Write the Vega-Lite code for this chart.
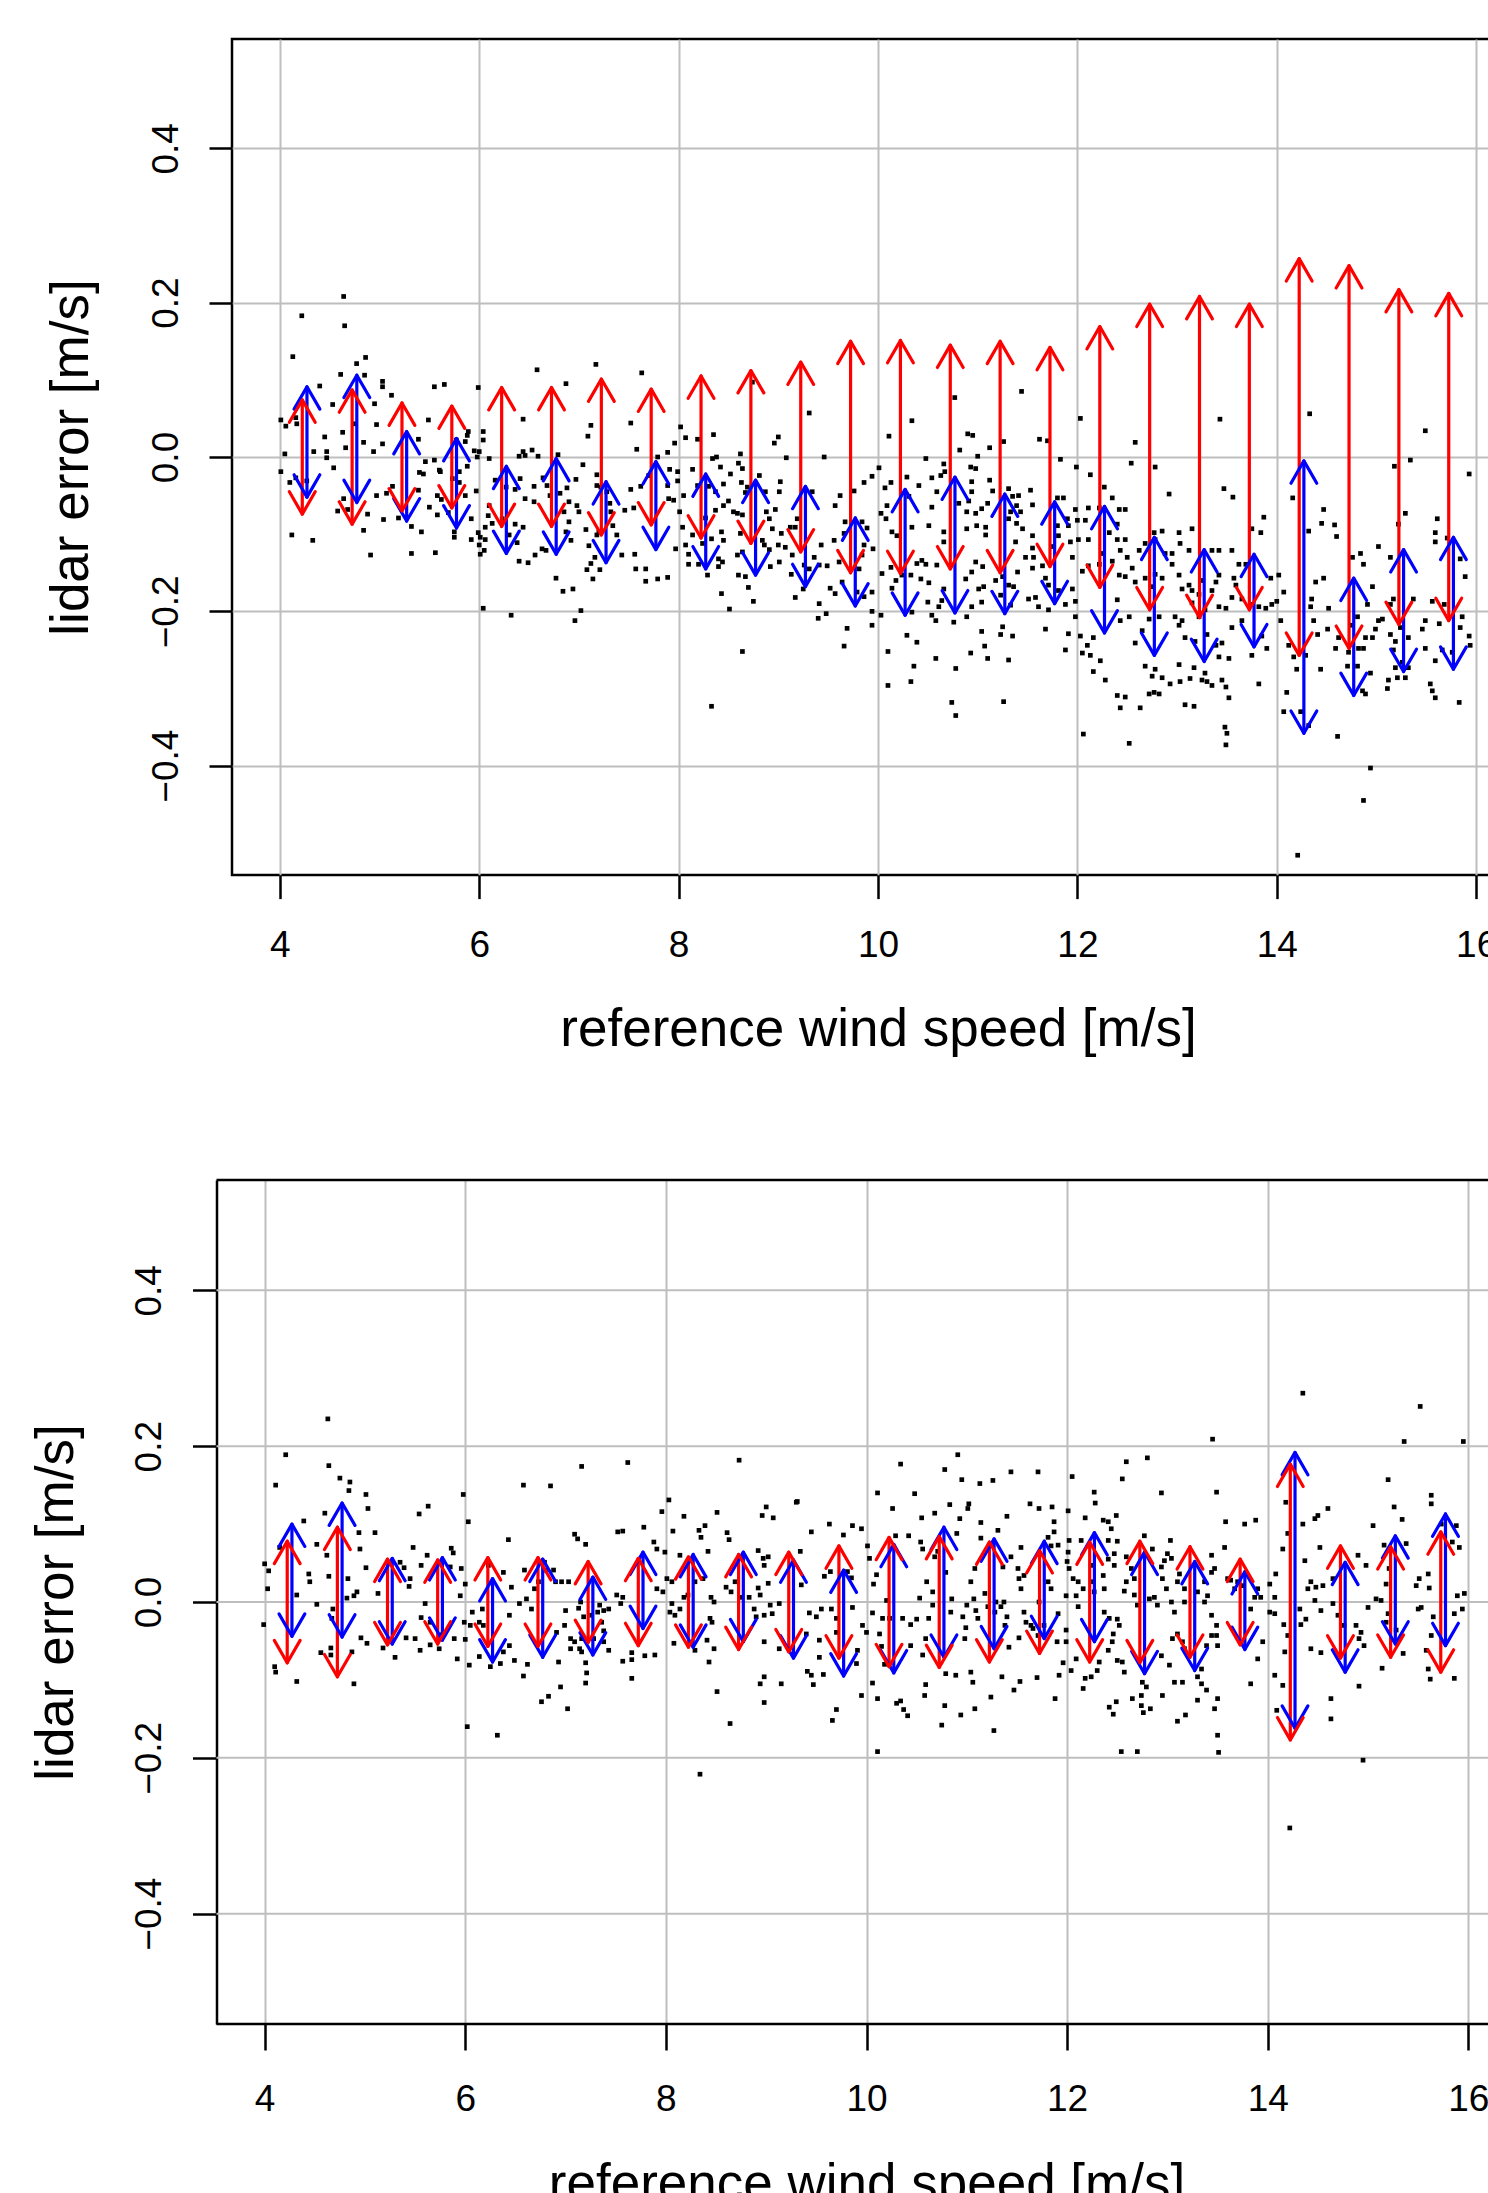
{
"$schema":"https://vega.github.io/schema/vega-lite/v6.json",
"padding":{"left":30,"top":37,"right":0,"bottom":0},
"background":"white",
"config":{"font":"Liberation Sans","axis":{"labelFont":"Liberation Sans","titleFont":"Liberation Sans","labelColor":"black","titleColor":"black","titleFontWeight":"normal","tickColor":"black","tickWidth":2.5,"domain":false,"grid":true,"gridColor":"#bebebe","gridWidth":2,"labelFontSize":37,"titleFontSize":53,"labelFlush":false,"labelOverlap":false}},
"datasets":{
"top":[{"x":4.64,"y":0.208},{"x":4.22,"y":0.183},{"x":4.65,"y":0.170},{"x":4.13,"y":0.130},{"x":4.77,"y":0.121},{"x":4.86,"y":0.129},{"x":4.61,"y":0.107},{"x":4.85,"y":0.106},{"x":4.40,"y":0.092},{"x":5.03,"y":0.091},{"x":5.03,"y":0.098},{"x":5.12,"y":0.080},{"x":5.55,"y":0.091},{"x":5.65,"y":0.094},{"x":5.99,"y":0.090},{"x":6.58,"y":0.113},{"x":7.17,"y":0.120},{"x":7.63,"y":0.109},{"x":6.87,"y":0.095},{"x":7.12,"y":0.041},{"x":7.09,"y":0.027},{"x":7.52,"y":0.044},{"x":7.58,"y":0.010},{"x":8.02,"y":0.039},{"x":8.07,"y":0.025},{"x":8.19,"y":0.023},{"x":7.96,"y":0.018},{"x":8.35,"y":0.029},
{"x":4.01,"y":0.048},{"x":4.06,"y":0.040},{"x":4.17,"y":0.043},{"x":4.16,"y":0.051},{"x":4.53,"y":0.068},{"x":4.95,"y":0.069},{"x":4.97,"y":0.042},{"x":4.63,"y":0.032},{"x":4.84,"y":0.019},{"x":5.03,"y":0.017},{"x":4.94,"y":0.007},{"x":4.45,"y":0.026},{"x":4.34,"y":0.007},{"x":4.47,"y":0.007},{"x":4.47,"y":-0.001},{"x":4.05,"y":0.004},{"x":4.01,"y":-0.019},{"x":4.54,"y":-0.014},{"x":4.66,"y":0.012},{"x":4.75,"y":0.043},{"x":5.49,"y":0.048},{"x":5.39,"y":0.023},{"x":5.89,"y":0.033},{"x":5.88,"y":0.028},{"x":6.04,"y":0.033},{"x":6.04,"y":0.022},{"x":5.86,"y":0.020},{"x":5.77,"y":0.022},{"x":5.95,"y":0.008},{"x":6.00,"y":0.007},{"x":5.98,"y":0.000},{"x":6.10,"y":-0.002},{"x":6.44,"y":0.049},{"x":6.53,"y":0.009},{"x":6.44,"y":0.007},{"x":6.46,"y":0.002},{"x":6.40,"y":0.001},{"x":6.59,"y":0.001},{"x":6.79,"y":0.003},{"x":7.04,"y":-0.010},
{"x":4.10,"y":-0.033},{"x":4.16,"y":-0.027},{"x":4.27,"y":-0.031},{"x":4.12,"y":-0.101},{"x":4.33,"y":-0.108},{"x":4.58,"y":-0.070},{"x":4.64,"y":-0.054},{"x":4.68,"y":-0.068},{"x":4.91,"y":-0.127},{"x":4.84,"y":-0.095},{"x":4.88,"y":-0.074},{"x":4.97,"y":-0.050},{"x":5.07,"y":-0.047},{"x":5.04,"y":-0.081},{"x":5.13,"y":-0.038},{"x":5.19,"y":-0.079},{"x":5.32,"y":-0.090},{"x":5.42,"y":-0.097},{"x":5.32,"y":-0.125},{"x":5.56,"y":-0.124},{"x":5.50,"y":-0.065},{"x":5.58,"y":-0.075},{"x":5.58,"y":-0.050},{"x":5.62,"y":-0.055},{"x":5.69,"y":-0.072},{"x":5.40,"y":-0.020},{"x":5.44,"y":-0.022},{"x":5.46,"y":-0.006},{"x":5.55,"y":-0.004},{"x":5.60,"y":-0.017},{"x":5.61,"y":-0.019},{"x":5.39,"y":-0.043},{"x":5.73,"y":-0.028},{"x":5.80,"y":-0.033},{"x":5.80,"y":-0.019},{"x":5.88,"y":-0.012},{"x":5.86,"y":-0.050},{"x":5.92,"y":-0.080},{"x":5.75,"y":-0.097},{"x":5.75,"y":-0.104},{"x":5.92,"y":-0.107},{"x":5.99,"y":-0.098},{"x":6.01,"y":-0.104},{"x":6.00,"y":-0.114},{"x":6.06,"y":-0.107},{"x":6.05,"y":-0.121},{"x":6.01,"y":-0.126},{"x":6.04,"y":-0.196},{"x":6.32,"y":-0.205},{"x":6.96,"y":-0.212},{"x":7.02,"y":-0.199},{"x":6.84,"y":-0.174},{"x":6.77,"y":-0.157},{"x":6.94,"y":-0.171},{"x":7.10,"y":-0.115},{"x":7.08,"y":-0.146},{"x":7.12,"y":-0.138},{"x":7.16,"y":-0.130},{"x":7.21,"y":-0.146},{"x":7.14,"y":-0.158},{"x":7.18,"y":-0.101},{"x":7.07,"y":-0.094},{"x":7.20,"y":-0.097},{"x":7.34,"y":-0.089},{"x":7.38,"y":-0.101},{"x":7.43,"y":-0.127},{"x":7.56,"y":-0.126},{"x":7.57,"y":-0.145},{"x":7.67,"y":-0.145},{"x":7.67,"y":-0.161},{"x":7.79,"y":-0.158},{"x":7.89,"y":-0.156},{"x":7.97,"y":-0.119},{"x":8.10,"y":-0.126},{"x":8.10,"y":-0.139},{"x":8.20,"y":-0.139},{"x":8.29,"y":-0.153},{"x":8.40,"y":-0.132},{"x":8.07,"y":-0.114},{"x":8.04,"y":-0.091},{"x":8.14,"y":-0.101},{"x":8.24,"y":-0.112},{"x":8.33,"y":-0.106},
{"x":6.16,"y":-0.030},{"x":6.27,"y":-0.039},{"x":6.41,"y":-0.028},{"x":6.36,"y":-0.042},{"x":6.46,"y":-0.054},{"x":6.55,"y":-0.038},{"x":6.55,"y":-0.058},{"x":6.64,"y":-0.027},{"x":6.68,"y":-0.037},{"x":6.71,"y":-0.050},{"x":6.81,"y":-0.047},{"x":6.88,"y":-0.040},{"x":6.90,"y":-0.058},{"x":6.97,"y":-0.029},{"x":6.98,"y":-0.063},{"x":7.00,"y":-0.071},{"x":6.85,"y":-0.071},{"x":6.90,"y":-0.084},{"x":6.92,"y":-0.108},{"x":6.87,"y":-0.097},{"x":6.40,"y":-0.135},{"x":6.49,"y":-0.137},{"x":6.56,"y":-0.127},{"x":6.63,"y":-0.119},{"x":6.67,"y":-0.121},{"x":6.38,"y":-0.111},{"x":6.44,"y":-0.091},{"x":6.36,"y":-0.087},{"x":6.13,"y":-0.086},{"x":6.23,"y":-0.080},{"x":6.30,"y":-0.101},{"x":6.09,"y":-0.076},{"x":6.06,"y":-0.091},{"x":5.97,"y":-0.044},{"x":6.10,"y":-0.063},
{"x":7.18,"y":-0.023},{"x":7.18,"y":-0.037},{"x":7.22,"y":-0.039},{"x":7.28,"y":-0.045},{"x":7.31,"y":-0.060},{"x":7.32,"y":-0.071},{"x":7.46,"y":-0.069},{"x":7.55,"y":-0.066},{"x":7.52,"y":-0.042},{"x":7.62,"y":-0.038},{"x":7.70,"y":-0.024},{"x":7.79,"y":0.000},{"x":7.89,"y":0.006},{"x":7.91,"y":-0.016},{"x":7.99,"y":-0.019},{"x":7.99,"y":-0.031},{"x":7.89,"y":-0.037},{"x":7.90,"y":-0.054},{"x":7.95,"y":-0.056},{"x":8.01,"y":-0.071},{"x":8.05,"y":-0.050},{"x":8.14,"y":-0.016},{"x":8.19,"y":-0.037},{"x":8.30,"y":-0.038},{"x":8.34,"y":-0.002},{"x":8.38,"y":0.000},{"x":8.37,"y":-0.045},{"x":8.37,"y":-0.069},{"x":8.27,"y":-0.079},{"x":8.33,"y":-0.323},
{"x":8.42,"y":-0.013},{"x":8.52,"y":-0.022},{"x":8.45,"y":-0.035},{"x":8.45,"y":-0.063},{"x":8.50,"y":-0.057},{"x":8.55,"y":-0.071},{"x":8.59,"y":-0.073},{"x":8.64,"y":-0.075},{"x":8.62,"y":-0.099},{"x":8.59,"y":-0.127},{"x":8.64,"y":-0.123},{"x":8.43,"y":-0.097},{"x":8.45,"y":-0.108},{"x":8.43,"y":-0.177},{"x":8.51,"y":-0.197},{"x":8.64,"y":-0.252},{"x":8.44,"y":-0.136},{"x":8.40,"y":-0.142},{"x":8.62,"y":0.004},{"x":8.60,"y":-0.008},{"x":8.64,"y":-0.015},{"x":8.63,"y":-0.033},{"x":8.69,"y":-0.039},{"x":8.67,"y":-0.046},{"x":8.74,"y":0.097},{"x":8.81,"y":-0.024},{"x":8.87,"y":-0.045},{"x":8.88,"y":-0.071},{"x":8.91,"y":-0.080},{"x":8.94,"y":-0.093},{"x":8.97,"y":-0.068},{"x":9.02,"y":-0.032},{"x":9.01,"y":-0.045},{"x":9.08,"y":-0.001},{"x":9.00,"y":0.026},{"x":8.96,"y":0.018},{"x":9.03,"y":-0.099},{"x":9.00,"y":-0.114},{"x":9.01,"y":-0.136},{"x":8.92,"y":-0.142},{"x":8.75,"y":-0.187},{"x":8.70,"y":-0.169},{"x":8.67,"y":-0.155},{"x":8.60,"y":-0.153},{"x":8.84,"y":-0.108},{"x":8.86,"y":-0.114},{"x":8.91,"y":-0.120},{"x":9.07,"y":-0.117},{"x":9.12,"y":-0.091},{"x":9.17,"y":-0.091},{"x":9.19,"y":-0.080},{"x":9.14,"y":-0.127},{"x":9.13,"y":-0.152},{"x":9.17,"y":-0.182},{"x":9.31,"y":0.057},{"x":9.34,"y":-0.045},{"x":9.26,"y":-0.140},{"x":9.31,"y":-0.145},{"x":9.36,"y":-0.130},{"x":9.41,"y":-0.140},{"x":9.43,"y":-0.114},{"x":9.49,"y":-0.141},{"x":9.25,"y":-0.171},{"x":9.46,"y":0.000},{"x":9.56,"y":-0.108},{"x":9.57,"y":-0.063},{"x":9.62,"y":-0.050},{"x":9.61,"y":-0.136},{"x":9.64,"y":-0.162},{"x":9.57,"y":-0.177},{"x":9.52,"y":-0.170},{"x":9.41,"y":-0.190},{"x":9.40,"y":-0.209},{"x":9.48,"y":-0.203},{"x":9.69,"y":-0.222},{"x":9.66,"y":-0.245},{"x":9.76,"y":-0.044},{"x":9.67,"y":-0.084},{"x":9.66,"y":-0.099},{"x":9.84,"y":-0.084},{"x":9.89,"y":-0.092},{"x":9.86,"y":-0.114},{"x":9.84,"y":-0.127},{"x":9.81,"y":-0.145},{"x":9.79,"y":-0.175},{"x":9.86,"y":-0.181},{"x":9.94,"y":-0.175},{"x":9.94,"y":-0.200},{"x":10.03,"y":-0.205},{"x":9.94,"y":-0.218},{"x":9.95,"y":-0.119},{"x":10.01,"y":-0.014},{"x":9.94,"y":-0.025},{"x":9.86,"y":-0.033},{"x":10.11,"y":0.027},{"x":10.13,"y":-0.033},{"x":10.07,"y":-0.040},{"x":10.09,"y":-0.063},{"x":10.03,"y":-0.073},{"x":10.08,"y":-0.080},{"x":10.14,"y":-0.097},{"x":10.19,"y":-0.102},{"x":10.29,"y":-0.026},{"x":10.31,"y":-0.051},{"x":10.34,"y":-0.091},{"x":10.13,"y":-0.143},{"x":10.18,"y":-0.160},{"x":10.14,"y":-0.170},{"x":10.04,"y":-0.151},{"x":10.24,"y":-0.153},{"x":10.33,"y":-0.153},{"x":10.39,"y":-0.138},{"x":10.44,"y":-0.134},{"x":10.48,"y":-0.139},{"x":10.43,"y":-0.158},{"x":10.51,"y":-0.163},{"x":10.34,"y":-0.201},{"x":10.29,"y":-0.231},{"x":10.39,"y":-0.240},{"x":10.36,"y":-0.271},{"x":10.33,"y":-0.291},{"x":10.10,"y":-0.252},{"x":10.10,"y":-0.296},{"x":10.34,"y":0.047},{"x":10.48,"y":-0.002},{"x":10.41,"y":-0.037},{"x":10.54,"y":-0.027},{"x":10.63,"y":-0.024},{"x":10.67,"y":-0.019},{"x":10.66,"y":-0.009},{"x":10.59,"y":-0.045},{"x":10.54,"y":-0.065},{"x":10.51,"y":-0.089},{"x":10.66,"y":-0.097},{"x":10.66,"y":-0.110},{"x":10.59,"y":-0.140},{"x":10.66,"y":-0.171},{"x":10.64,"y":-0.186},{"x":10.50,"y":-0.188},{"x":10.61,"y":-0.194},{"x":10.54,"y":-0.205},{"x":10.58,"y":-0.212},{"x":10.76,"y":-0.214},{"x":10.58,"y":-0.261},{"x":10.78,"y":-0.274},{"x":10.74,"y":-0.318},{"x":10.78,"y":-0.335},{"x":10.77,"y":0.077},{"x":10.82,"y":0.009},{"x":10.90,"y":0.030},{"x":10.95,"y":0.028},{"x":11.00,"y":0.001},{"x":10.93,"y":-0.013},{"x":10.98,"y":-0.015},{"x":10.94,"y":-0.032},{"x":10.94,"y":-0.045},{"x":10.91,"y":-0.057},{"x":10.81,"y":-0.060},{"x":10.89,"y":-0.071},{"x":10.98,"y":-0.073},{"x":11.04,"y":-0.067},{"x":11.10,"y":-0.060},{"x":11.15,"y":-0.044},{"x":11.12,"y":-0.030},{"x":11.26,"y":0.020},{"x":11.12,"y":0.012},{"x":11.31,"y":-0.041},{"x":11.35,"y":-0.051},{"x":11.39,"y":-0.063},{"x":11.33,"y":-0.071},{"x":11.31,"y":-0.080},{"x":11.08,"y":-0.091},{"x":10.99,"y":-0.089},{"x":10.89,"y":-0.093},{"x":11.08,"y":-0.101},{"x":10.98,"y":-0.136},{"x":11.05,"y":-0.142},{"x":10.94,"y":-0.149},{"x":10.88,"y":-0.158},{"x":11.01,"y":-0.171},{"x":11.06,"y":-0.168},{"x":11.18,"y":-0.160},{"x":11.25,"y":-0.155},{"x":11.31,"y":-0.166},{"x":11.36,"y":-0.168},{"x":11.23,"y":-0.179},{"x":11.33,"y":-0.192},{"x":11.04,"y":-0.188},{"x":10.94,"y":-0.194},{"x":10.89,"y":-0.207},{"x":11.04,"y":-0.226},{"x":11.07,"y":-0.245},{"x":11.10,"y":-0.261},{"x":10.93,"y":-0.254},{"x":11.25,"y":-0.220},{"x":11.23,"y":-0.230},{"x":11.35,"y":-0.232},{"x":11.31,"y":-0.263},{"x":11.26,"y":-0.317},{"x":11.40,"y":-0.149},{"x":11.38,"y":-0.110},{"x":11.39,"y":-0.086},
{"x":11.44,"y":0.085},{"x":11.62,"y":0.023},{"x":11.70,"y":0.021},{"x":11.83,"y":-0.003},{"x":12.03,"y":0.050},{"x":11.99,"y":-0.013},{"x":12.13,"y":-0.023},{"x":12.58,"y":0.019},{"x":12.54,"y":-0.008},{"x":12.78,"y":-0.013},{"x":12.92,"y":-0.048},{"x":13.43,"y":0.049},{"x":13.47,"y":-0.041},{"x":13.56,"y":-0.052},{"x":14.33,"y":0.056},{"x":15.49,"y":0.034},{"x":15.34,"y":-0.004},{"x":15.18,"y":-0.012},{"x":15.93,"y":-0.022},{"x":14.16,"y":-0.053},{"x":14.47,"y":-0.068},{"x":14.45,"y":-0.086},{"x":14.58,"y":-0.088},{"x":14.60,"y":-0.103},{"x":14.32,"y":-0.096},
{"x":11.41,"y":-0.050},{"x":11.53,"y":-0.043},{"x":11.55,"y":-0.062},{"x":11.43,"y":-0.071},{"x":11.45,"y":-0.093},{"x":11.55,"y":-0.102},{"x":11.55,"y":-0.118},{"x":11.48,"y":-0.130},{"x":11.56,"y":-0.130},{"x":11.55,"y":-0.144},{"x":11.65,"y":-0.141},{"x":11.75,"y":-0.116},{"x":11.81,"y":-0.102},{"x":11.80,"y":-0.089},{"x":11.86,"y":-0.053},{"x":11.80,"y":-0.053},{"x":11.90,"y":-0.080},{"x":11.91,"y":-0.089},{"x":11.98,"y":-0.068},{"x":12.00,"y":-0.082},{"x":12.08,"y":-0.082},{"x":12.11,"y":-0.066},{"x":12.22,"y":-0.066},{"x":12.27,"y":-0.039},{"x":12.35,"y":-0.053},{"x":12.42,"y":-0.068},{"x":12.48,"y":-0.068},{"x":12.40,"y":-0.087},{"x":12.32,"y":-0.098},{"x":12.40,"y":-0.107},{"x":12.48,"y":-0.107},{"x":12.43,"y":-0.121},{"x":12.50,"y":-0.130},{"x":12.55,"y":-0.144},{"x":12.48,"y":-0.155},{"x":12.58,"y":-0.162},{"x":12.42,"y":-0.153},{"x":12.11,"y":-0.107},{"x":12.01,"y":-0.107},{"x":11.93,"y":-0.110},{"x":11.95,"y":-0.130},{"x":12.05,"y":-0.148},{"x":12.11,"y":-0.141},{"x":12.25,"y":-0.125},{"x":12.22,"y":-0.139},{"x":12.35,"y":-0.135},{"x":11.95,"y":-0.171},{"x":11.81,"y":-0.173},{"x":11.71,"y":-0.166},{"x":11.68,"y":-0.157},{"x":11.58,"y":-0.182},{"x":11.51,"y":-0.184},{"x":11.61,"y":-0.194},{"x":11.71,"y":-0.198},{"x":11.88,"y":-0.191},{"x":11.98,"y":-0.187},
{"x":11.68,"y":-0.223},{"x":11.91,"y":-0.229},{"x":11.88,"y":-0.250},{"x":11.98,"y":-0.207},{"x":12.03,"y":-0.232},{"x":12.10,"y":-0.244},{"x":12.16,"y":-0.234},{"x":12.13,"y":-0.257},{"x":12.05,"y":-0.254},{"x":12.16,"y":-0.278},{"x":12.23,"y":-0.264},{"x":12.28,"y":-0.289},{"x":12.40,"y":-0.185},{"x":12.43,"y":-0.212},{"x":12.52,"y":-0.207},{"x":12.40,"y":-0.309},{"x":12.48,"y":-0.311},{"x":12.43,"y":-0.325},{"x":12.63,"y":-0.325},{"x":12.52,"y":-0.371},{"x":12.06,"y":-0.359},
{"x":12.62,"y":-0.121},{"x":12.68,"y":-0.112},{"x":12.77,"y":-0.098},{"x":12.78,"y":-0.107},{"x":12.85,"y":-0.096},{"x":12.88,"y":-0.125},{"x":12.78,"y":-0.152},{"x":12.68,"y":-0.157},{"x":12.75,"y":-0.168},{"x":12.85,"y":-0.157},{"x":12.95,"y":-0.139},{"x":13.02,"y":-0.098},{"x":13.03,"y":-0.112},{"x":13.12,"y":-0.121},{"x":13.15,"y":-0.093},{"x":12.95,"y":-0.125},{"x":13.02,"y":-0.153},{"x":13.12,"y":-0.166},{"x":13.05,"y":-0.171},{"x":13.15,"y":-0.173},{"x":13.22,"y":-0.178},{"x":13.25,"y":-0.160},{"x":13.35,"y":-0.173},{"x":13.39,"y":-0.162},{"x":13.42,"y":-0.153},{"x":13.35,"y":-0.121},{"x":13.42,"y":-0.121},{"x":13.55,"y":-0.121},{"x":13.62,"y":-0.139},{"x":13.69,"y":-0.139},{"x":13.75,"y":-0.093},{"x":13.84,"y":-0.098},{"x":13.87,"y":-0.078},{"x":13.57,"y":-0.157},{"x":13.59,"y":-0.166},{"x":13.65,"y":-0.184},{"x":13.75,"y":-0.191},{"x":13.82,"y":-0.194},{"x":13.89,"y":-0.196},{"x":13.95,"y":-0.191},{"x":14.00,"y":-0.187},{"x":14.02,"y":-0.153},{"x":14.07,"y":-0.175},{"x":13.94,"y":-0.157},{"x":13.55,"y":-0.182},{"x":13.49,"y":-0.196},{"x":13.42,"y":-0.194},{"x":13.28,"y":-0.198},{"x":13.22,"y":-0.207},{"x":13.15,"y":-0.189},{"x":13.05,"y":-0.212},{"x":12.98,"y":-0.207},{"x":12.82,"y":-0.207},{"x":12.72,"y":-0.210},{"x":12.65,"y":-0.225},{"x":12.58,"y":-0.241},{"x":12.68,"y":-0.271},{"x":12.75,"y":-0.284},{"x":12.78,"y":-0.275},{"x":12.85,"y":-0.286},{"x":12.93,"y":-0.294},{"x":13.02,"y":-0.269},{"x":13.03,"y":-0.291},{"x":13.13,"y":-0.287},{"x":13.17,"y":-0.273},{"x":13.25,"y":-0.289},{"x":13.30,"y":-0.291},{"x":13.35,"y":-0.296},{"x":13.28,"y":-0.280},{"x":13.42,"y":-0.259},{"x":13.52,"y":-0.261},{"x":13.45,"y":-0.289},{"x":13.49,"y":-0.298},{"x":13.52,"y":-0.312},{"x":13.08,"y":-0.321},{"x":13.17,"y":-0.323},{"x":12.72,"y":-0.307},{"x":12.77,"y":-0.305},{"x":12.82,"y":-0.307},{"x":13.48,"y":-0.350},{"x":13.50,"y":-0.358},{"x":13.49,"y":-0.373},{"x":13.02,"y":-0.218},{"x":13.08,"y":-0.234},{"x":13.18,"y":-0.239},{"x":13.30,"y":-0.230},{"x":13.39,"y":-0.244},{"x":13.45,"y":-0.241},{"x":13.55,"y":-0.221},{"x":13.65,"y":-0.212},{"x":13.75,"y":-0.257},{"x":13.82,"y":-0.294},{"x":13.85,"y":-0.232},{"x":13.90,"y":-0.248},
{"x":14.04,"y":-0.212},{"x":14.12,"y":-0.244},{"x":14.17,"y":-0.259},{"x":14.20,"y":-0.275},{"x":14.10,"y":-0.305},{"x":14.07,"y":-0.330},{"x":14.24,"y":-0.330},{"x":14.32,"y":-0.348},{"x":14.29,"y":-0.257},{"x":14.37,"y":-0.212},{"x":14.41,"y":-0.230},{"x":14.34,"y":-0.194},{"x":14.35,"y":-0.184},{"x":14.39,"y":-0.162},{"x":14.47,"y":-0.157},{"x":14.51,"y":-0.223},{"x":14.44,"y":-0.275},{"x":14.52,"y":-0.196},{"x":14.59,"y":-0.248},{"x":14.62,"y":-0.234},{"x":14.74,"y":-0.218},{"x":14.81,"y":-0.207},{"x":14.82,"y":-0.248},{"x":14.87,"y":-0.248},{"x":14.89,"y":-0.234},{"x":14.96,"y":-0.234},{"x":14.99,"y":-0.223},{"x":15.02,"y":-0.212},{"x":15.06,"y":-0.210},{"x":14.96,"y":-0.168},{"x":14.91,"y":-0.191},{"x":14.72,"y":-0.253},{"x":14.71,"y":-0.271},{"x":14.81,"y":-0.271},{"x":14.89,"y":-0.307},{"x":14.94,"y":-0.280},{"x":14.86,"y":-0.303},{"x":14.61,"y":-0.362},{"x":14.94,"y":-0.403},{"x":14.76,"y":-0.130},{"x":14.84,"y":-0.125},{"x":14.87,"y":-0.139},{"x":15.02,"y":-0.116},
{"x":15.14,"y":-0.130},{"x":15.22,"y":-0.087},{"x":15.29,"y":-0.073},{"x":15.17,"y":-0.184},{"x":15.14,"y":-0.230},{"x":15.24,"y":-0.221},{"x":15.19,"y":-0.239},{"x":15.32,"y":-0.234},{"x":15.17,"y":-0.250},{"x":15.26,"y":-0.266},{"x":15.19,"y":-0.273},{"x":15.32,"y":-0.273},{"x":15.12,"y":-0.289},{"x":15.11,"y":-0.300},{"x":15.21,"y":-0.286},{"x":15.29,"y":-0.286},{"x":15.14,"y":-0.191},{"x":15.37,"y":-0.184},{"x":15.49,"y":-0.212},{"x":15.46,"y":-0.223},{"x":15.49,"y":-0.248},{"x":15.56,"y":-0.187},{"x":15.61,"y":-0.080},{"x":15.59,"y":-0.098},{"x":15.59,"y":-0.110},{"x":15.71,"y":-0.105},{"x":15.84,"y":-0.132},{"x":15.89,"y":-0.155},{"x":15.86,"y":-0.207},{"x":15.84,"y":-0.221},{"x":15.93,"y":-0.232},{"x":15.94,"y":-0.244},{"x":15.76,"y":-0.253},{"x":15.66,"y":-0.250},{"x":15.59,"y":-0.264},{"x":15.54,"y":-0.294},{"x":15.56,"y":-0.303},{"x":15.59,"y":-0.312},{"x":15.83,"y":-0.318},{"x":15.63,"y":-0.216},{"x":15.68,"y":-0.191},{"x":14.21,"y":-0.516},{"x":14.87,"y":-0.445}],
"bot":[{"x":4.63,"y":0.235},{"x":4.21,"y":0.189},{"x":4.11,"y":0.150},{"x":4.64,"y":0.175},{"x":4.75,"y":0.159},{"x":4.85,"y":0.154},{"x":4.84,"y":0.143},{"x":5.01,"y":0.138},{"x":5.03,"y":0.120},{"x":4.60,"y":0.114},{"x":4.39,"y":0.104},{"x":4.94,"y":0.089},{"x":5.10,"y":0.089},{"x":4.95,"y":0.068},{"x":4.52,"y":0.074},{"x":4.15,"y":0.070},{"x":4.00,"y":0.049},{"x":4.04,"y":0.040},{"x":4.03,"y":0.017},{"x":3.99,"y":-0.029},{"x":4.44,"y":0.036},{"x":4.45,"y":0.026},{"x":4.32,"y":0.009},{"x":4.52,"y":-0.003},{"x":4.62,"y":0.060},{"x":4.64,"y":0.033},{"x":4.83,"y":0.030},{"x":4.92,"y":0.013},{"x":4.89,"y":0.008},{"x":4.82,"y":0.005},{"x":4.68,"y":-0.009},{"x":4.67,"y":-0.021},{"x":4.10,"y":-0.083},{"x":4.11,"y":-0.090},{"x":4.32,"y":-0.102},{"x":4.56,"y":-0.065},{"x":4.66,"y":-0.059},{"x":4.66,"y":-0.068},{"x":4.87,"y":-0.064},{"x":4.89,"y":-0.105},{"x":4.96,"y":-0.046},{"x":5.02,"y":-0.053},{"x":5.18,"y":-0.059},{"x":5.30,"y":-0.071},{"x":5.13,"y":0.011},{"x":5.01,"y":0.044},{"x":5.35,"y":0.051},{"x":5.39,"y":0.044},{"x":5.45,"y":0.030},{"x":5.44,"y":0.020},{"x":5.48,"y":0.070},{"x":5.54,"y":0.113},{"x":5.63,"y":0.123},{"x":5.62,"y":0.060},{"x":5.56,"y":0.047},{"x":5.60,"y":-0.002},{"x":5.56,"y":-0.020},{"x":5.65,"y":-0.026},{"x":5.41,"y":-0.046},{"x":5.50,"y":-0.047},{"x":5.55,"y":-0.062},{"x":5.65,"y":-0.055},{"x":5.74,"y":-0.060},{"x":5.77,"y":-0.042},{"x":5.89,"y":-0.047},{"x":5.92,"y":-0.073},{"x":6.00,"y":-0.048},{"x":6.04,"y":-0.081},{"x":6.14,"y":-0.070},{"x":6.25,"y":-0.083},{"x":6.35,"y":-0.079},{"x":6.38,"y":-0.064},{"x":6.44,"y":-0.056},{"x":6.49,"y":-0.075},{"x":6.58,"y":-0.095},{"x":6.62,"y":-0.080},{"x":5.98,"y":0.138},{"x":6.03,"y":0.103},{"x":5.86,"y":0.069},{"x":5.88,"y":0.063},{"x":5.85,"y":0.045},{"x":5.96,"y":0.043},{"x":5.95,"y":0.008},{"x":6.00,"y":0.023},{"x":5.99,"y":-0.026},{"x":6.05,"y":-0.030},{"x":6.14,"y":-0.026},{"x":6.18,"y":-0.030},{"x":6.17,"y":-0.009},{"x":6.07,"y":-0.013},{"x":6.23,"y":0.047},{"x":6.38,"y":0.038},{"x":6.43,"y":0.080},{"x":6.46,"y":0.019},{"x":6.44,"y":-0.017},{"x":6.54,"y":-0.002},{"x":6.59,"y":0.041},{"x":6.58,"y":0.150},{"x":6.61,"y":0.004},{"x":6.66,"y":-0.009},{"x":6.69,"y":0.017},{"x":6.73,"y":0.026},{"x":6.79,"y":0.051},{"x":6.80,"y":0.041},{"x":6.88,"y":0.041},{"x":6.90,"y":0.026},{"x":6.96,"y":0.026},{"x":7.03,"y":0.026},{"x":7.00,"y":-0.011},{"x":6.99,"y":-0.030},{"x":6.93,"y":-0.077},{"x":6.76,"y":-0.128},{"x":6.83,"y":-0.121},{"x":6.95,"y":-0.109},{"x":7.02,"y":-0.137},{"x":6.91,"y":-0.039},{"x":7.05,"y":-0.047},{"x":7.09,"y":-0.051},{"x":7.05,"y":-0.060},{"x":7.14,"y":-0.060},{"x":7.16,"y":-0.047},{"x":7.16,"y":-0.064},{"x":7.20,"y":-0.078},{"x":7.21,"y":-0.091},{"x":7.20,"y":-0.104},{"x":7.09,"y":0.087},{"x":7.12,"y":0.081},{"x":7.20,"y":0.074},{"x":7.16,"y":0.174},{"x":6.85,"y":0.149},{"x":7.15,"y":0.000},{"x":7.13,"y":-0.008},{"x":7.18,"y":-0.019},{"x":7.26,"y":-0.017},{"x":7.34,"y":-0.004},{"x":7.32,"y":-0.013},{"x":7.38,"y":-0.011},{"x":7.43,"y":-0.009},{"x":7.36,"y":-0.026},{"x":7.38,"y":-0.037},{"x":7.28,"y":-0.047},{"x":7.38,"y":-0.051},{"x":7.43,"y":-0.062},{"x":7.51,"y":0.009},{"x":7.57,"y":0.006},{"x":7.55,"y":-0.002},{"x":7.52,"y":0.090},{"x":7.57,"y":0.091},{"x":7.62,"y":0.179},{"x":7.66,"y":-0.065},{"x":7.66,"y":-0.074},{"x":7.57,"y":-0.076},{"x":7.66,"y":-0.098},{"x":7.79,"y":-0.069},{"x":7.89,"y":-0.068},{"x":7.78,"y":0.096},{"x":7.88,"y":0.077},{"x":7.91,"y":0.068},{"x":8.03,"y":0.131},{"x":7.96,"y":0.116},{"x":7.99,"y":0.064},{"x":8.07,"y":0.091},{"x":8.18,"y":0.110},{"x":8.14,"y":0.060},{"x":8.01,"y":0.030},{"x":8.06,"y":0.026},{"x":7.97,"y":0.013},{"x":7.91,"y":0.017},{"x":8.06,"y":-0.002},{"x":8.04,"y":-0.013},{"x":8.09,"y":-0.017},{"x":8.14,"y":-0.009},{"x":8.18,"y":0.006},{"x":8.22,"y":0.009},{"x":8.29,"y":0.026},{"x":8.37,"y":0.030},{"x":8.42,"y":0.065},{"x":8.33,"y":0.092},{"x":8.39,"y":0.098},{"x":8.35,"y":0.083},{"x":8.51,"y":0.115},{"x":8.63,"y":0.080},{"x":8.61,"y":0.089},{"x":8.73,"y":0.182},{"x":8.45,"y":0.006},{"x":8.48,"y":0.000},{"x":8.44,"y":-0.021},{"x":8.46,"y":-0.026},{"x":8.41,"y":-0.049},{"x":8.48,"y":-0.060},{"x":8.43,"y":-0.077},{"x":8.29,"y":-0.062},{"x":8.08,"y":-0.053},{"x":8.51,"y":-0.115},{"x":8.64,"y":-0.156},{"x":8.60,"y":0.019},{"x":8.65,"y":0.013},{"x":8.69,"y":0.026},{"x":8.75,"y":0.006},{"x":8.83,"y":0.006},{"x":8.94,"y":0.009},{"x":8.92,"y":0.018},{"x":9.02,"y":0.024},{"x":8.88,"y":-0.009},{"x":8.90,"y":-0.019},{"x":8.98,"y":-0.017},{"x":9.06,"y":-0.015},{"x":9.04,"y":-0.004},{"x":9.13,"y":-0.002},{"x":8.98,"y":0.047},{"x":8.97,"y":0.056},{"x":8.92,"y":0.066},{"x":9.02,"y":0.058},{"x":9.00,"y":0.122},{"x":9.07,"y":0.108},{"x":8.96,"y":0.111},{"x":9.30,"y":0.128},{"x":8.98,"y":-0.051},{"x":8.98,"y":-0.096},{"x":8.94,"y":-0.105},{"x":8.98,"y":-0.129},{"x":9.15,"y":-0.105},{"x":9.13,"y":-0.060},{"x":8.34,"y":-0.221},{"x":6.02,"y":-0.160},{"x":6.32,"y":-0.171},
{"x":9.31,"y":0.129},{"x":9.35,"y":0.022},{"x":9.34,"y":0.065},{"x":9.45,"y":0.090},{"x":9.43,"y":-0.014},{"x":9.40,"y":-0.041},{"x":9.41,"y":-0.089},{"x":9.45,"y":-0.094},{"x":9.47,"y":-0.106},{"x":9.50,"y":-0.019},{"x":9.53,"y":-0.049},{"x":9.55,"y":-0.009},{"x":9.53,"y":-0.071},{"x":9.57,"y":-0.093},{"x":9.58,"y":0.033},{"x":9.63,"y":0.100},{"x":9.64,"y":0.039},{"x":9.65,"y":-0.009},{"x":9.70,"y":-0.021},{"x":9.70,"y":-0.039},{"x":9.70,"y":-0.138},{"x":9.66,"y":-0.152},{"x":9.77,"y":0.086},{"x":9.81,"y":0.039},{"x":9.85,"y":0.031},{"x":9.86,"y":-0.007},{"x":9.86,"y":0.098},{"x":9.95,"y":0.094},{"x":9.91,"y":-0.062},{"x":9.90,"y":-0.079},{"x":9.96,"y":-0.030},{"x":9.95,"y":-0.120},{"x":10.00,"y":-0.039},{"x":10.01,"y":0.072},{"x":10.03,"y":0.056},{"x":10.06,"y":-0.104},{"x":10.07,"y":0.023},{"x":10.10,"y":0.035},{"x":10.06,"y":-0.014},{"x":10.11,"y":-0.124},{"x":10.11,"y":-0.192},{"x":10.11,"y":0.140},{"x":10.13,"y":-0.041},{"x":10.16,"y":-0.021},{"x":10.20,"y":0.002},{"x":10.18,"y":-0.080},{"x":10.15,"y":-0.057},{"x":10.23,"y":-0.021},{"x":10.26,"y":0.120},{"x":10.29,"y":0.085},{"x":10.30,"y":-0.130},{"x":10.34,"y":-0.127},{"x":10.37,"y":-0.138},{"x":10.41,"y":-0.146},{"x":10.34,"y":0.177},{"x":10.36,"y":-0.021},{"x":10.42,"y":0.085},{"x":10.44,"y":-0.029},{"x":10.44,"y":-0.056},{"x":10.48,"y":0.139},{"x":10.50,"y":-0.022},{"x":10.53,"y":0.005},{"x":10.54,"y":0.077},{"x":10.55,"y":0.108},{"x":10.56,"y":0.068},{"x":10.59,"y":-0.047},{"x":10.56,"y":-0.068},{"x":10.59,"y":-0.106},{"x":10.58,"y":-0.120},{"x":10.60,"y":0.026},{"x":10.62,"y":-0.021},{"x":10.66,"y":-0.004},{"x":10.66,"y":0.013},{"x":10.68,"y":0.114},{"x":10.68,"y":0.058},{"x":10.71,"y":0.065},{"x":10.75,"y":-0.158},{"x":10.78,"y":-0.133},{"x":10.79,"y":0.038},{"x":10.78,"y":0.170},{"x":10.83,"y":0.125},{"x":10.84,"y":-0.013},{"x":10.85,"y":0.004},{"x":10.89,"y":-0.094},{"x":10.91,"y":0.189},{"x":10.90,"y":0.088},{"x":10.93,"y":0.107},{"x":10.95,"y":0.157},{"x":10.96,"y":-0.019},{"x":10.99,"y":-0.033},{"x":10.98,"y":-0.047},{"x":11.00,"y":-0.004},{"x":11.01,"y":0.120},{"x":11.02,"y":0.126},{"x":11.04,"y":0.026},{"x":11.07,"y":0.004},{"x":11.09,"y":-0.011},{"x":11.04,"y":-0.090},{"x":11.06,"y":-0.103},{"x":11.08,"y":0.043},{"x":11.11,"y":-0.021},{"x":11.13,"y":0.152},{"x":11.14,"y":0.102},{"x":11.14,"y":0.082},{"x":11.18,"y":0.011},{"x":11.21,"y":-0.006},{"x":11.24,"y":-0.122},{"x":11.26,"y":0.156},{"x":11.27,"y":-0.165},{"x":11.28,"y":-0.013},{"x":11.29,"y":0.000},{"x":11.31,"y":0.092},{"x":11.08,"y":-0.137},{"x":10.94,"y":-0.145},{"x":10.79,"y":-0.092},
{"x":11.44,"y":0.167},{"x":11.71,"y":0.167},{"x":11.40,"y":0.110},{"x":11.63,"y":0.126},{"x":11.72,"y":0.120},{"x":11.85,"y":0.122},{"x":11.87,"y":0.103},{"x":11.87,"y":0.090},{"x":12.01,"y":0.117},{"x":12.05,"y":0.161},{"x":11.84,"y":0.072},{"x":11.91,"y":0.073},{"x":11.81,"y":0.083},{"x":11.54,"y":0.070},{"x":11.44,"y":0.058},{"x":11.36,"y":0.045},{"x":11.51,"y":0.043},{"x":11.52,"y":0.030},{"x":11.57,"y":0.034},{"x":11.54,"y":0.017},{"x":11.37,"y":0.000},{"x":11.34,"y":-0.006},{"x":11.40,"y":-0.019},{"x":11.38,"y":-0.030},{"x":11.57,"y":-0.013},{"x":11.59,"y":-0.026},{"x":11.64,"y":-0.030},{"x":11.42,"y":-0.058},{"x":11.52,"y":-0.046},{"x":11.35,"y":-0.096},{"x":11.47,"y":-0.113},{"x":11.53,"y":-0.102},{"x":11.70,"y":-0.097},{"x":11.88,"y":-0.124},{"x":11.92,"y":-0.094},{"x":11.90,"y":-0.051},{"x":11.96,"y":-0.078},{"x":11.91,"y":-0.015},{"x":11.84,"y":0.017},{"x":11.81,"y":0.026},{"x":11.72,"y":0.000},{"x":11.77,"y":-0.030},{"x":11.66,"y":-0.034},{"x":11.71,"y":-0.043},{"x":11.99,"y":-0.036},{"x":11.99,"y":-0.051},{"x":12.02,"y":0.079},{"x":12.01,"y":0.064},{"x":12.00,"y":0.052},{"x":12.02,"y":0.043},{"x":12.06,"y":0.030},{"x":12.11,"y":0.026},{"x":12.09,"y":0.008},{"x":11.99,"y":0.008},{"x":12.11,"y":-0.006},{"x":12.16,"y":0.017},{"x":12.14,"y":0.079},{"x":12.18,"y":0.108},{"x":12.27,"y":0.141},{"x":12.28,"y":0.127},{"x":12.36,"y":0.105},{"x":12.41,"y":0.103},{"x":12.44,"y":0.094},{"x":12.41,"y":0.079},{"x":12.49,"y":0.111},{"x":12.50,"y":0.078},{"x":12.47,"y":0.062},{"x":12.47,"y":0.047},{"x":12.41,"y":0.055},{"x":12.36,"y":0.034},{"x":12.37,"y":0.017},{"x":12.24,"y":0.047},{"x":12.24,"y":0.026},{"x":12.27,"y":0.013},{"x":12.37,"y":-0.013},{"x":12.42,"y":-0.021},{"x":12.50,"y":-0.022},{"x":12.52,"y":-0.030},{"x":12.46,"y":-0.041},{"x":12.45,"y":-0.051},{"x":12.41,"y":-0.062},{"x":12.32,"y":-0.077},{"x":12.30,"y":-0.088},{"x":12.24,"y":-0.096},{"x":12.18,"y":-0.098},{"x":12.09,"y":-0.073},{"x":12.04,"y":-0.088},{"x":12.16,"y":-0.111},
{"x":12.59,"y":0.180},{"x":12.55,"y":0.158},{"x":12.80,"y":0.185},{"x":12.94,"y":0.140},{"x":12.77,"y":0.085},{"x":12.85,"y":0.068},{"x":12.59,"y":0.058},{"x":12.64,"y":0.043},{"x":12.67,"y":0.030},{"x":12.59,"y":0.026},{"x":12.57,"y":0.014},{"x":12.67,"y":0.009},{"x":12.70,"y":-0.004},{"x":12.82,"y":0.004},{"x":12.87,"y":0.006},{"x":12.90,"y":-0.004},{"x":12.94,"y":0.045},{"x":12.97,"y":0.053},{"x":13.04,"y":0.056},{"x":13.03,"y":0.079},{"x":13.00,"y":0.062},{"x":12.95,"y":0.030},{"x":12.99,"y":0.017},{"x":13.04,"y":0.000},{"x":13.07,"y":-0.013},{"x":13.10,"y":0.026},{"x":13.12,"y":0.036},{"x":13.17,"y":0.017},{"x":13.17,"y":0.000},{"x":13.10,"y":-0.041},{"x":13.05,"y":-0.047},{"x":13.15,"y":-0.051},{"x":13.17,"y":-0.060},{"x":12.55,"y":-0.077},{"x":12.57,"y":-0.090},{"x":12.50,"y":-0.075},{"x":12.65,"y":-0.124},{"x":12.75,"y":-0.103},{"x":12.79,"y":-0.109},{"x":12.74,"y":-0.120},{"x":12.74,"y":-0.133},{"x":12.83,"y":-0.137},{"x":12.76,"y":-0.142},{"x":12.49,"y":-0.128},{"x":12.42,"y":-0.135},{"x":12.46,"y":-0.144},{"x":12.54,"y":-0.192},{"x":12.70,"y":-0.192},{"x":12.95,"y":-0.120},{"x":13.02,"y":-0.081},{"x":12.94,"y":-0.069},{"x":13.10,"y":-0.153},{"x":13.18,"y":-0.145},{"x":13.15,"y":-0.103},{"x":13.07,"y":-0.103},{"x":13.30,"y":-0.096},{"x":13.34,"y":-0.105},{"x":13.39,"y":-0.113},{"x":13.30,"y":-0.126},{"x":13.34,"y":-0.086},{"x":13.39,"y":-0.056},{"x":13.44,"y":-0.043},{"x":13.49,"y":-0.043},{"x":13.50,"y":-0.056},{"x":13.49,"y":-0.030},{"x":13.44,"y":-0.017},{"x":13.37,"y":0.000},{"x":13.40,"y":0.008},{"x":13.30,"y":0.013},{"x":13.37,"y":0.026},{"x":13.44,"y":0.038},{"x":13.47,"y":0.043},{"x":13.44,"y":0.060},{"x":13.57,"y":0.070},{"x":13.58,"y":0.103},{"x":13.77,"y":0.100},{"x":13.88,"y":0.105},{"x":13.49,"y":0.141},{"x":13.45,"y":0.209},{"x":13.60,"y":0.030},{"x":13.63,"y":0.028},{"x":13.67,"y":0.017},{"x":13.70,"y":0.026},{"x":13.75,"y":0.021},{"x":13.83,"y":-0.009},{"x":13.87,"y":0.006},{"x":13.90,"y":0.017},{"x":13.93,"y":0.006},{"x":13.95,"y":-0.051},{"x":13.90,"y":-0.073},{"x":13.83,"y":-0.105},{"x":13.50,"y":-0.124},{"x":13.47,"y":-0.137},{"x":13.50,"y":-0.171},{"x":13.51,"y":-0.193},
{"x":14.02,"y":0.023},{"x":14.07,"y":0.006},{"x":14.07,"y":-0.015},{"x":14.02,"y":-0.013},{"x":14.08,"y":0.036},{"x":14.15,"y":0.068},{"x":14.18,"y":0.128},{"x":14.20,"y":0.088},{"x":14.16,"y":-0.029},{"x":14.20,"y":-0.043},{"x":14.17,"y":-0.064},{"x":14.15,"y":-0.107},{"x":14.07,"y":-0.094},{"x":14.09,"y":-0.139},{"x":14.22,"y":-0.290},{"x":14.35,"y":0.268},{"x":14.35,"y":0.100},{"x":14.37,"y":0.053},{"x":14.32,"y":-0.009},{"x":14.33,"y":-0.029},{"x":14.38,"y":-0.022},{"x":14.40,"y":0.017},{"x":14.43,"y":0.026},{"x":14.48,"y":0.019},{"x":14.55,"y":0.021},{"x":14.47,"y":0.107},{"x":14.50,"y":0.111},{"x":14.60,"y":0.120},{"x":14.52,"y":0.070},{"x":14.47,"y":0.002},{"x":14.53,"y":-0.011},{"x":14.43,"y":-0.060},{"x":14.53,"y":-0.065},{"x":14.63,"y":-0.124},{"x":14.63,"y":-0.150},{"x":14.65,"y":0.030},{"x":14.65,"y":-0.002},{"x":14.70,"y":-0.017},{"x":14.76,"y":-0.030},{"x":14.88,"y":-0.030},{"x":14.93,"y":-0.039},{"x":14.91,"y":-0.047},{"x":14.96,"y":-0.056},{"x":14.98,"y":0.047},{"x":14.90,"y":0.060},{"x":15.05,"y":0.098},{"x":15.00,"y":-0.007},{"x":15.08,"y":0.004},{"x":15.13,"y":0.002},{"x":15.18,"y":0.023},{"x":15.16,"y":0.073},{"x":15.20,"y":0.157},{"x":15.26,"y":0.122},{"x":15.34,"y":0.106},{"x":15.21,"y":0.043},{"x":15.20,"y":-0.015},{"x":15.18,"y":-0.026},{"x":15.28,"y":-0.036},{"x":15.35,"y":-0.066},{"x":15.14,"y":-0.085},{"x":14.95,"y":-0.203},{"x":14.91,"y":-0.108},{"x":15.38,"y":0.075},{"x":15.48,"y":0.021},{"x":15.51,"y":0.030},{"x":15.53,"y":-0.007},{"x":15.60,"y":0.036},{"x":15.61,"y":0.018},{"x":15.50,"y":-0.009},{"x":15.63,"y":0.137},{"x":15.63,"y":0.126},{"x":15.65,"y":-0.019},{"x":15.63,"y":-0.043},{"x":15.58,"y":-0.062},{"x":15.60,"y":-0.086},{"x":15.62,"y":-0.099},{"x":15.73,"y":0.100},{"x":15.84,"y":0.077},{"x":15.91,"y":0.070},{"x":15.88,"y":0.098},{"x":15.89,"y":0.008},{"x":15.96,"y":0.011},{"x":15.94,"y":-0.009},{"x":15.86,"y":-0.015},{"x":15.86,"y":-0.098},{"x":15.52,"y":0.251},{"x":15.36,"y":0.206},{"x":15.95,"y":0.206}],
"arrTop":[{"x":4.272,"lo":-0.052,"hi":0.091,"s":"b"},{"x":4.772,"lo":-0.059,"hi":0.106,"s":"b"},{"x":5.272,"lo":-0.083,"hi":0.033,"s":"b"},{"x":5.772,"lo":-0.092,"hi":0.024,"s":"b"},{"x":6.272,"lo":-0.125,"hi":-0.012,"s":"b"},{"x":6.772,"lo":-0.126,"hi":-0.002,"s":"b"},{"x":7.272,"lo":-0.137,"hi":-0.032,"s":"b"},{"x":7.772,"lo":-0.120,"hi":-0.006,"s":"b"},{"x":8.272,"lo":-0.145,"hi":-0.022,"s":"b"},{"x":8.772,"lo":-0.153,"hi":-0.030,"s":"b"},{"x":9.272,"lo":-0.168,"hi":-0.038,"s":"b"},{"x":9.772,"lo":-0.193,"hi":-0.079,"s":"b"},{"x":10.272,"lo":-0.205,"hi":-0.042,"s":"b"},{"x":10.772,"lo":-0.202,"hi":-0.026,"s":"b"},{"x":11.272,"lo":-0.203,"hi":-0.048,"s":"b"},{"x":11.772,"lo":-0.190,"hi":-0.058,"s":"b"},{"x":12.272,"lo":-0.228,"hi":-0.064,"s":"b"},{"x":12.772,"lo":-0.257,"hi":-0.104,"s":"b"},{"x":13.272,"lo":-0.265,"hi":-0.120,"s":"b"},{"x":13.772,"lo":-0.246,"hi":-0.126,"s":"b"},{"x":14.272,"lo":-0.358,"hi":-0.005,"s":"b"},{"x":14.772,"lo":-0.309,"hi":-0.157,"s":"b"},{"x":15.272,"lo":-0.278,"hi":-0.120,"s":"b"},{"x":15.772,"lo":-0.275,"hi":-0.104,"s":"b"},
{"x":4.225,"lo":-0.074,"hi":0.074,"s":"r"},{"x":4.725,"lo":-0.087,"hi":0.087,"s":"r"},{"x":5.225,"lo":-0.070,"hi":0.070,"s":"r"},{"x":5.725,"lo":-0.066,"hi":0.066,"s":"r"},{"x":6.225,"lo":-0.090,"hi":0.090,"s":"r"},{"x":6.725,"lo":-0.090,"hi":0.090,"s":"r"},{"x":7.225,"lo":-0.101,"hi":0.101,"s":"r"},{"x":7.725,"lo":-0.088,"hi":0.088,"s":"r"},{"x":8.225,"lo":-0.105,"hi":0.105,"s":"r"},{"x":8.725,"lo":-0.112,"hi":0.112,"s":"r"},{"x":9.225,"lo":-0.123,"hi":0.123,"s":"r"},{"x":9.725,"lo":-0.150,"hi":0.150,"s":"r"},{"x":10.225,"lo":-0.151,"hi":0.151,"s":"r"},{"x":10.725,"lo":-0.145,"hi":0.145,"s":"r"},{"x":11.225,"lo":-0.150,"hi":0.150,"s":"r"},{"x":11.725,"lo":-0.142,"hi":0.142,"s":"r"},{"x":12.225,"lo":-0.169,"hi":0.169,"s":"r"},{"x":12.725,"lo":-0.198,"hi":0.198,"s":"r"},{"x":13.225,"lo":-0.208,"hi":0.208,"s":"r"},{"x":13.725,"lo":-0.198,"hi":0.198,"s":"r"},{"x":14.225,"lo":-0.257,"hi":0.257,"s":"r"},{"x":14.725,"lo":-0.248,"hi":0.248,"s":"r"},{"x":15.225,"lo":-0.217,"hi":0.217,"s":"r"},{"x":15.725,"lo":-0.212,"hi":0.212,"s":"r"}],
"arrBot":[{"x":4.272,"lo":-0.044,"hi":0.100,"s":"b"},{"x":4.772,"lo":-0.045,"hi":0.127,"s":"b"},{"x":5.272,"lo":-0.054,"hi":0.056,"s":"b"},{"x":5.772,"lo":-0.049,"hi":0.057,"s":"b"},{"x":6.272,"lo":-0.077,"hi":0.030,"s":"b"},{"x":6.772,"lo":-0.071,"hi":0.055,"s":"b"},{"x":7.272,"lo":-0.068,"hi":0.032,"s":"b"},{"x":7.772,"lo":-0.034,"hi":0.064,"s":"b"},{"x":8.272,"lo":-0.058,"hi":0.061,"s":"b"},{"x":8.772,"lo":-0.051,"hi":0.064,"s":"b"},{"x":9.272,"lo":-0.072,"hi":0.054,"s":"b"},{"x":9.772,"lo":-0.095,"hi":0.041,"s":"b"},{"x":10.272,"lo":-0.091,"hi":0.074,"s":"b"},{"x":10.772,"lo":-0.071,"hi":0.096,"s":"b"},{"x":11.272,"lo":-0.060,"hi":0.081,"s":"b"},{"x":11.772,"lo":-0.047,"hi":0.078,"s":"b"},{"x":12.272,"lo":-0.051,"hi":0.089,"s":"b"},{"x":12.772,"lo":-0.092,"hi":0.064,"s":"b"},{"x":13.272,"lo":-0.088,"hi":0.052,"s":"b"},{"x":13.772,"lo":-0.061,"hi":0.039,"s":"b"},{"x":14.272,"lo":-0.162,"hi":0.192,"s":"b"},{"x":14.772,"lo":-0.090,"hi":0.051,"s":"b"},{"x":15.272,"lo":-0.054,"hi":0.085,"s":"b"},{"x":15.772,"lo":-0.056,"hi":0.113,"s":"b"},
{"x":4.225,"lo":-0.078,"hi":0.078,"s":"r"},{"x":4.725,"lo":-0.096,"hi":0.096,"s":"r"},{"x":5.225,"lo":-0.055,"hi":0.055,"s":"r"},{"x":5.725,"lo":-0.054,"hi":0.054,"s":"r"},{"x":6.225,"lo":-0.057,"hi":0.057,"s":"r"},{"x":6.725,"lo":-0.057,"hi":0.057,"s":"r"},{"x":7.225,"lo":-0.052,"hi":0.052,"s":"r"},{"x":7.725,"lo":-0.056,"hi":0.056,"s":"r"},{"x":8.225,"lo":-0.058,"hi":0.058,"s":"r"},{"x":8.725,"lo":-0.061,"hi":0.061,"s":"r"},{"x":9.225,"lo":-0.064,"hi":0.064,"s":"r"},{"x":9.725,"lo":-0.072,"hi":0.072,"s":"r"},{"x":10.225,"lo":-0.083,"hi":0.083,"s":"r"},{"x":10.725,"lo":-0.084,"hi":0.084,"s":"r"},{"x":11.225,"lo":-0.077,"hi":0.077,"s":"r"},{"x":11.725,"lo":-0.066,"hi":0.066,"s":"r"},{"x":12.225,"lo":-0.077,"hi":0.077,"s":"r"},{"x":12.725,"lo":-0.078,"hi":0.078,"s":"r"},{"x":13.225,"lo":-0.071,"hi":0.071,"s":"r"},{"x":13.725,"lo":-0.055,"hi":0.055,"s":"r"},{"x":14.225,"lo":-0.177,"hi":0.177,"s":"r"},{"x":14.725,"lo":-0.072,"hi":0.072,"s":"r"},{"x":15.225,"lo":-0.071,"hi":0.071,"s":"r"},{"x":15.725,"lo":-0.090,"hi":0.090,"s":"r"}]
},
"spacing":120,
"vconcat":[
 {"width":1292,"height":836,"view":{"stroke":"black","strokeWidth":2.5},
  "encoding":{
   "x":{"field":"x","type":"quantitative","scale":{"domain":[3.52,16.48],"nice":false,"zero":false},
     "axis":{"values":[4,6,8,10,12,14,16],"format":"d","title":"reference wind speed [m/s]","tickSize":23.6,"labelPadding":29,"titlePadding":40}}},
  "layer":[
    {"data":{"name":"top"},"mark":{"type":"point","shape":"square","filled":true,"size":22,"color":"black","opacity":1},
     "encoding":{"y":{"field":"y","type":"quantitative","scale":{"domain":[-0.5416,0.5416],"nice":false,"zero":false},
       "axis":{"values":[-0.4,-0.2,0,0.2,0.4],"format":".1f","title":"lidar error [m/s]","tickSize":23,"labelAngle":-90,"labelAlign":"center","labelBaseline":"alphabetic","labelPadding":32,"titlePadding":49,"titleBaseline":"bottom"}}}},
    {"data":{"name":"arrTop"},"mark":{"type":"rule","strokeWidth":3.2,"strokeCap":"round"},
     "encoding":{"y":{"field":"lo","type":"quantitative"},"y2":{"field":"hi"},"color":{"field":"s","type":"nominal","scale":{"domain":["b","r"],"range":["#0000ff","#ff0000"]},"legend":null}}},
    {"data":{"name":"arrTop"},"mark":{"type":"point","shape":"M-0.577,1L0,0L0.577,1","filled":false,"size":2000,"strokeWidth":3.2,"strokeCap":"round","strokeJoin":"round","opacity":1},
     "encoding":{"y":{"field":"hi","type":"quantitative"},"color":{"field":"s","type":"nominal","scale":{"domain":["b","r"],"range":["#0000ff","#ff0000"]},"legend":null}}},
    {"data":{"name":"arrTop"},"mark":{"type":"point","shape":"M-0.577,-1L0,0L0.577,-1","filled":false,"size":2000,"strokeWidth":3.2,"strokeCap":"round","strokeJoin":"round","opacity":1},
     "encoding":{"y":{"field":"lo","type":"quantitative"},"color":{"field":"s","type":"nominal","scale":{"domain":["b","r"],"range":["#0000ff","#ff0000"]},"legend":null}}}
  ]},
 {"width":1284.5,"height":844,"view":{"stroke":null},
  "layer":[
   {"data":{"values":[{"g":-0.4},{"g":-0.2},{"g":0},{"g":0.2},{"g":0.4}]},"mark":{"type":"rule","color":"#bebebe","strokeWidth":2},
    "encoding":{"x":{"datum":3.52,"type":"quantitative"},"x2":{"datum":16.48},"y":{"field":"g","type":"quantitative"}}},
   {"data":{"name":"bot"},"mark":{"type":"point","shape":"square","filled":true,"size":22,"color":"black","opacity":1},
    "encoding":{
     "x":{"field":"x","type":"quantitative","scale":{"domain":[3.6745,16.48],"nice":false,"zero":false},
       "axis":{"values":[4,6,8,10,12,14,16],"format":"d","title":"reference wind speed [m/s]","tickSize":26,"labelPadding":31,"titlePadding":41,"titleX":634.5}},
     "y":{"field":"y","type":"quantitative","scale":{"domain":[-0.5416,0.5416],"nice":false,"zero":false},
      "axis":{"values":[-0.4,-0.2,0,0.2,0.4],"format":".1f","title":"lidar error [m/s]","offset":15.5,"domain":true,"domainColor":"black","domainWidth":2.5,"grid":false,"tickSize":24,"labelAngle":-90,"labelAlign":"center","labelBaseline":"alphabetic","labelPadding":32,"titlePadding":47,"titleBaseline":"bottom"}}}},
   {"data":{"name":"arrBot"},"mark":{"type":"rule","strokeWidth":3.2,"strokeCap":"round"},
    "encoding":{"x":{"field":"x","type":"quantitative"},"y":{"field":"lo","type":"quantitative"},"y2":{"field":"hi"},"color":{"field":"s","type":"nominal","scale":{"domain":["b","r"],"range":["#0000ff","#ff0000"]},"legend":null}}},
   {"data":{"name":"arrBot"},"mark":{"type":"point","shape":"M-0.577,1L0,0L0.577,1","filled":false,"size":2000,"strokeWidth":3.2,"strokeCap":"round","strokeJoin":"round","opacity":1},
    "encoding":{"x":{"field":"x","type":"quantitative"},"y":{"field":"hi","type":"quantitative"},"color":{"field":"s","type":"nominal","scale":{"domain":["b","r"],"range":["#0000ff","#ff0000"]},"legend":null}}},
   {"data":{"name":"arrBot"},"mark":{"type":"point","shape":"M-0.577,-1L0,0L0.577,-1","filled":false,"size":2000,"strokeWidth":3.2,"strokeCap":"round","strokeJoin":"round","opacity":1},
    "encoding":{"x":{"field":"x","type":"quantitative"},"y":{"field":"lo","type":"quantitative"},"color":{"field":"s","type":"nominal","scale":{"domain":["b","r"],"range":["#0000ff","#ff0000"]},"legend":null}}},
   {"data":{"values":[{"e":-0.5416},{"e":0.5416}]},"mark":{"type":"rule","color":"black","strokeWidth":2.5},
    "encoding":{"x":{"datum":3.52,"type":"quantitative"},"x2":{"datum":16.48},"y":{"field":"e","type":"quantitative"}}},
   {"data":{"values":[{"e":16.48}]},"mark":{"type":"rule","color":"black","strokeWidth":2.5},
    "encoding":{"x":{"field":"e","type":"quantitative"},"y":{"datum":-0.5416,"type":"quantitative"},"y2":{"datum":0.5416}}}
  ]}
]
}
